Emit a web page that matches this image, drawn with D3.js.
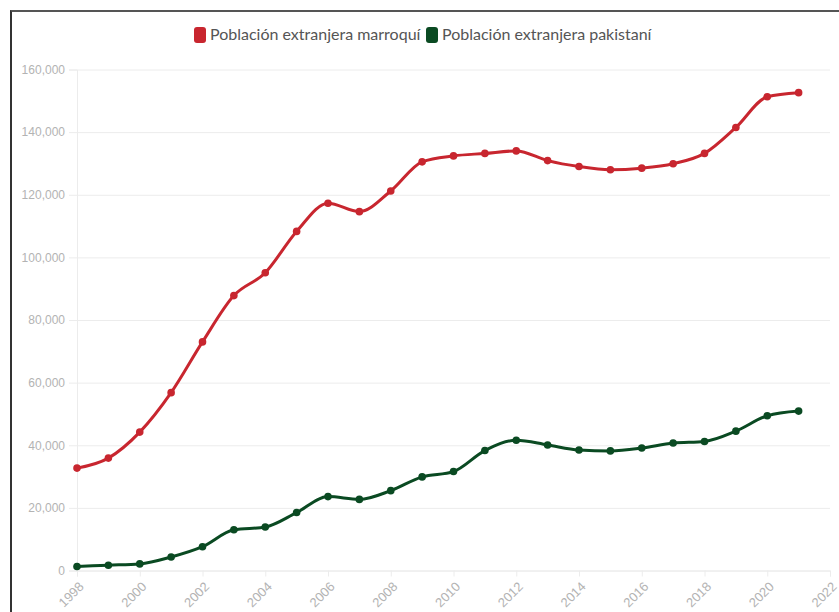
<!DOCTYPE html>
<html>
<head>
<meta charset="utf-8">
<script src="https://cdn.jsdelivr.net/npm/d3@7"></script>
<style>
  body { margin: 0; background: #fff; font-family: "Noto Sans", "Open Sans", sans-serif; }
  .frame { position: absolute; left: 10px; top: 10px; width: 900px; height: 700px;
           border-left: 2px solid #333; border-top: 2px solid #555; }
  .tick text { fill: #b3b3b3; font-size: 12px; }
  .legend text { fill: #555; font-size: 16px; font-family: Lato, sans-serif; }
</style>
</head>
<body>
<div class="frame"></div>
<svg id="chart" width="839" height="612" style="position:absolute;left:0;top:0"></svg>
<script>
let years = d3.range(1998, 2022);
let marroqui = [32700, 35900, 44200, 56800, 73000, 87800, 95100, 108300, 117300, 114600,
  121200, 130500, 132400, 133200, 134000, 130900, 129000, 128000, 128500, 129900,
  133200, 141500, 151300, 152600];
let pakistani = [1300, 1700, 2100, 4300, 7600, 13000, 13900, 18500, 23600, 22700,
  25500, 29900, 31600, 38300, 41600, 40100, 38500, 38200, 39100, 40700,
  41200, 44500, 49400, 50900];
let seriesNames = ["Población extranjera marroquí", "Población extranjera pakistaní"];
let colors = ["#c8262f", "#0a4a22"];
let yTicks = [0, 20000, 40000, 60000, 80000, 100000, 120000, 140000, 160000];
let xTicks = d3.range(1998, 2023, 2);

var svg = d3.select("#chart");
var x = d3.scaleLinear().domain([1998, 2022]).range([77, 830]);
var y = d3.scaleLinear().domain([0, 160000]).range([570.5, 69.5]);

// grid + y axis
var gy = svg.append("g").attr("transform", "translate(77,0)")
  .call(d3.axisLeft(y).tickValues(yTicks).tickSize(8).tickPadding(4)
    .tickFormat(d3.format(",")));
gy.select(".domain").attr("stroke", "#ececec");
gy.selectAll(".tick line").attr("stroke", "#ececec").attr("x2", 753);
gy.selectAll(".tick line").attr("x1", -8);

// x axis
var gx = svg.append("g").attr("transform", "translate(0,570.5)")
  .call(d3.axisBottom(x).tickValues(xTicks).tickSize(6).tickFormat(d3.format("d")));
gx.select(".domain").attr("stroke", "#ececec");
gx.selectAll(".tick line").attr("stroke", "#ececec");
gx.selectAll(".tick text")
  .style("font-size", "13px")
  .attr("text-anchor", "end")
  .attr("dy", 0).attr("y", 0)
  .attr("transform", "translate(7,17) rotate(-45)");

var line = d3.line().x((d, i) => x(years[i])).y(d => y(d)).curve(d3.curveMonotoneX);

[marroqui, pakistani].forEach(function(data, k){
  svg.append("path").datum(data)
    .attr("fill", "none").attr("stroke", colors[k]).attr("stroke-width", 3)
    .attr("d", line);
  svg.append("g").selectAll("circle").data(data).join("circle")
    .attr("cx", (d, i) => x(years[i])).attr("cy", d => y(d))
    .attr("r", 3.8).attr("fill", colors[k]);
});

// legend
var lg = svg.append("g").attr("class", "legend");
var lx = [194, 426];
seriesNames.forEach(function(n, k){
  lg.append("rect").attr("x", lx[k]).attr("y", 27).attr("width", 12).attr("height", 16)
    .attr("rx", 3).attr("fill", colors[k]);
  lg.append("text").attr("x", lx[k] + 16).attr("y", 40).text(n);
});
</script>
</body>
</html>
